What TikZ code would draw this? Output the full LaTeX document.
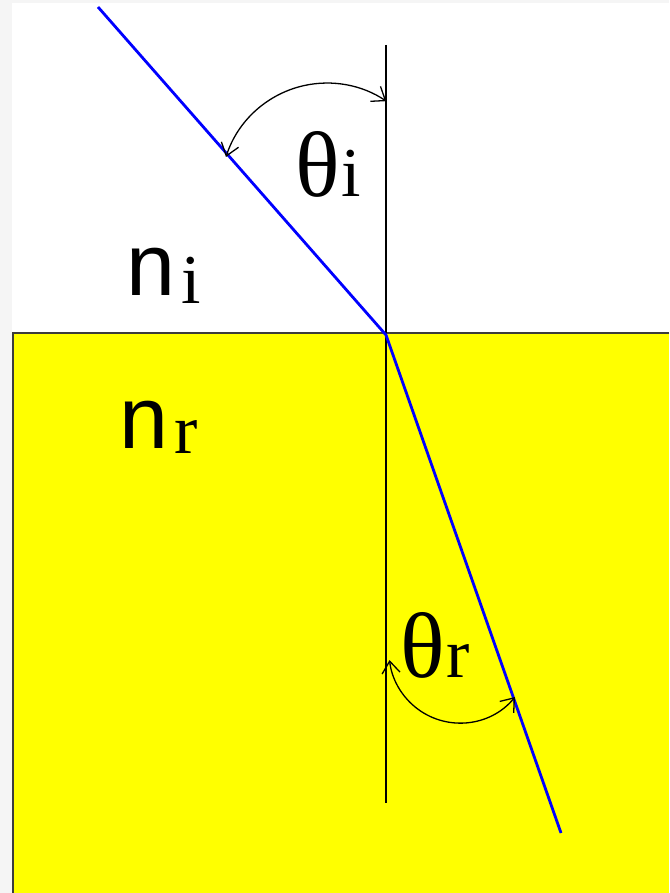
\documentclass[tikz,border=0pt]{standalone}
\usepackage{fontspec}
\setmainfont{Liberation Serif}
\newfontfamily\nsans{Liberation Sans}
\usetikzlibrary{arrows.meta}
\definecolor{yel}{RGB}{255,255,0}
\definecolor{rayblue}{RGB}{0,0,255}
\definecolor{margin}{RGB}{245,245,245}
\definecolor{edge}{RGB}{60,60,60}
\begin{document}
\begin{tikzpicture}[x=1pt,y=-1pt,
  normalline/.style={draw=black,line width=1.4pt},
  raypath/.style={draw=rayblue,line width=2.8pt},
  anglearc/.style={draw=black,line width=1.3pt,{Straight Barb[length=12pt,width=18pt]}-{Straight Barb[length=12pt,width=18pt]}},
  biglabel/.style={inner sep=0pt,anchor=base west,font=\fontsize{88}{88}\selectfont},
  thetalabel/.style={inner sep=0pt,anchor=base west,font=\fontsize{93}{93}\selectfont}]
\useasboundingbox (0,0) rectangle (669,893);
\fill[margin] (0,0) rectangle (669,893);
\fill[white] (12,3) rectangle (669,893);
\fill[yel] (13,333) rectangle (669,893);
\draw[edge,line width=1.4pt] (669,333) -- (13,333) -- (13,893.5);
\coordinate (ntop) at (386,45);
\coordinate (nbot) at (386,803);
\coordinate (O) at (386,335);
\coordinate (inc) at (98,7);
\coordinate (ref) at (561,833);
\coordinate (ai) at (226,157);
\coordinate (ar) at (515,697);
\draw[normalline] (ntop) -- (nbot);
\draw[raypath,line join=round] (inc) -- (O) -- (ref);
\draw[anglearc] (ai) arc[start angle=162.4,end angle=56,radius=106pt];
\draw[anglearc] (ar) arc[start angle=-39.3,end angle=-173.5,radius=71pt];
\node[thetalabel] (thi) at (295,197) {θ\kern2pt{\fontsize{70}{70}\selectfont i}};
\node[thetalabel] (thr) at (400,677) {θ\kern2pt{\fontsize{70}{70}\selectfont r}};
\node[biglabel] (ni) at (126,295) {{\nsans n}\kern6pt\raisebox{-8pt}{\fontsize{70}{70}\selectfont i}};
\node[biglabel] (nr) at (119,448) {{\nsans n}\kern6pt\raisebox{-5pt}{\fontsize{70}{70}\selectfont r}};
\end{tikzpicture}
\end{document}
